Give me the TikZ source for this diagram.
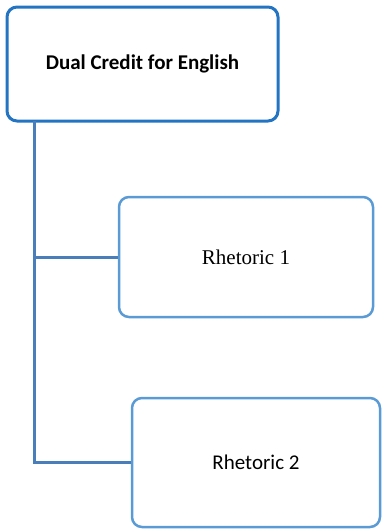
\documentclass[tikz,border=0pt]{standalone}
\usepackage{fontspec}
\setmainfont{Liberation Serif}
\newfontfamily\calibri{Carlito}
\definecolor{topblue}{HTML}{2474C4}
\definecolor{boxblue}{HTML}{5B9BD5}
\definecolor{linkblue}{HTML}{4A7EBB}
\tikzset{
    unitbox/.style={draw=boxblue, line width=2.5pt, rounded corners=10pt, fill=white, align=center, font=\fontsize{21}{25}\selectfont},
    link/.style={draw=linkblue, line width=3pt}
}

\begin{document}
\begin{tikzpicture}[x=1pt, y=-1pt]
                        \useasboundingbox (0,0) rectangle (381,531);
                        
                        \node[unitbox, draw=topblue, line width=3pt, minimum width=271pt, minimum height=114pt, font=\calibri\bfseries\fontsize{21}{25}\selectfont] (dual) at (142.5,64) {Dual Credit for English};
                        \node[unitbox, minimum width=254pt, minimum height=120pt] (rh1) at (246,257) {Rhetoric 1};
                        \node[unitbox, minimum width=248pt, minimum height=129pt, font=\calibri\fontsize{21}{25}\selectfont] (rh2) at (256,462.5) {Rhetoric 2};
                        
                        \coordinate (trunk) at (34,121);
                        \draw[link] (trunk) |- (rh2.west);
                        \draw[link] (trunk |- rh1.west) -- (rh1.west);
                    \end{tikzpicture}
\end{document}
